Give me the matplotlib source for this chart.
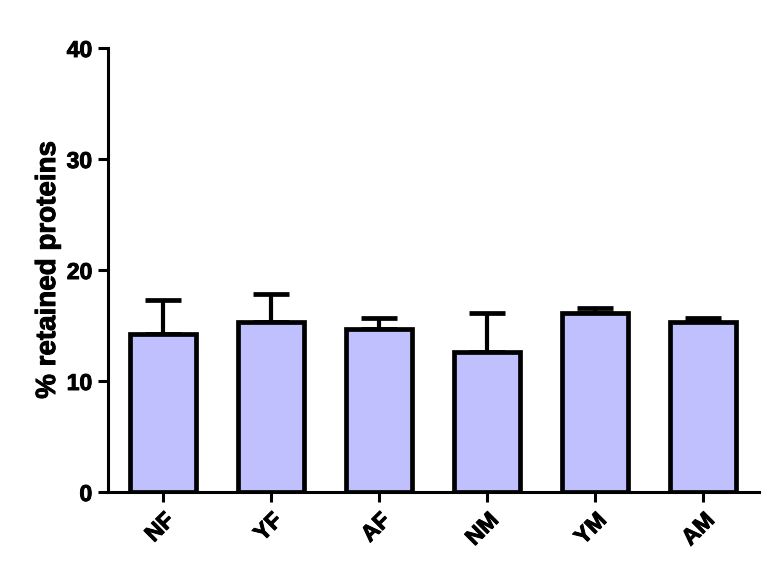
import matplotlib
matplotlib.use("Agg")
import matplotlib.pyplot as plt
import matplotlib.patheffects as pe
import numpy as np

# valeurs
groupes = ["NF", "YF", "AF", "NM", "YM", "AM"]
moyennes = [14.2, 15.3, 14.7, 12.6, 16.1, 15.3]
erreurs = [3.1, 2.5, 1.0, 3.55, 0.5, 0.4]
yticks = [0, 10, 20, 30, 40]

plt.rcParams['font.family'] = ['Liberation Sans', 'DejaVu Sans']
plt.rcParams['font.weight'] = 'bold'

fig = plt.figure(figsize=(7.74, 5.84), dpi=100)
ax = fig.add_axes([107.5 / 774, 92 / 584, 651.5 / 774, 444 / 584])

x = np.arange(len(groupes))
ax.bar(x, moyennes, width=0.61, color='#c0c0ff', edgecolor='black',
       linewidth=3.4, zorder=3)
ax.errorbar(x, moyennes, yerr=[np.zeros(len(erreurs)), erreurs], fmt='none',
            ecolor='black', elinewidth=3, capsize=13, capthick=3.4, zorder=2)

ax.set_xlim(-0.51, 5.52)
ax.set_ylim(0, 40)
ax.set_yticks(yticks)
ax.set_xticks(x)
ax.set_xticklabels(groupes, rotation=45, ha='right', rotation_mode='anchor')

for s in ['top', 'right']:
    ax.spines[s].set_visible(False)
for s in ['left', 'bottom']:
    ax.spines[s].set_linewidth(2.2)

ax.tick_params(axis='both', width=2.2, length=7, labelsize=16.5)
ax.tick_params(axis='y', pad=4)
ax.tick_params(axis='x', pad=5)
ax.set_ylabel('% retained proteins', fontsize=20, fontweight='bold', labelpad=4)

# texte un peu plus épais, comme dans l'original
epais = [pe.withStroke(linewidth=0.7, foreground='black')]
for t in ax.get_xticklabels() + ax.get_yticklabels() + [ax.yaxis.label]:
    t.set_path_effects(epais)

plt.savefig('out.png', dpi=100)
plt.close()
